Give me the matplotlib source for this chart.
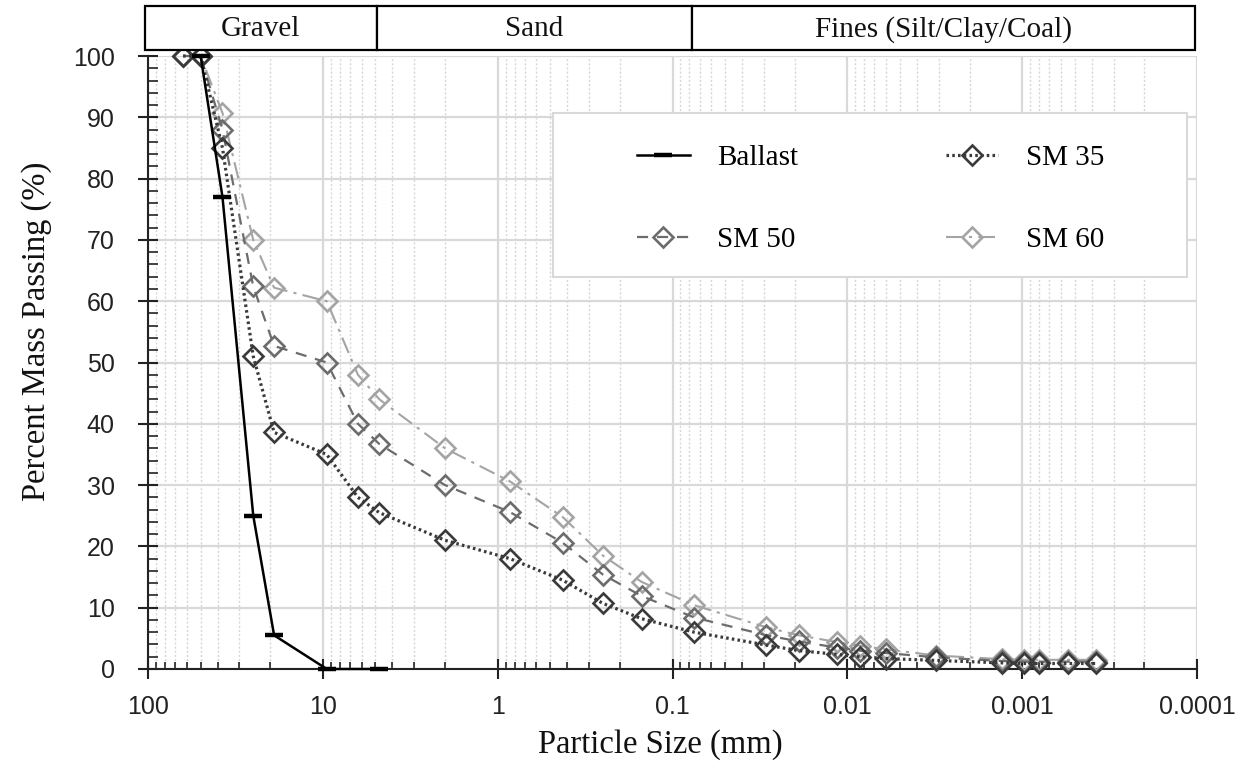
import matplotlib
matplotlib.use("Agg")
import numpy as np
import matplotlib.pyplot as plt
from matplotlib.patches import Rectangle
from matplotlib.ticker import FixedLocator, FixedFormatter, LogLocator, NullFormatter, MultipleLocator

# ---- data -------------------------------------------------------------
ballast_size = [50, 37.5, 25, 19, 9.5, 4.75]
ballast_pass = [100, 77, 25, 5.5, 0, 0]

soil_size = [63, 50, 37.5, 25, 19, 9.5, 6.3, 4.75, 2.0, 0.85, 0.425, 0.25, 0.15, 0.075,
             0.029, 0.019, 0.0115, 0.0085, 0.006, 0.0031, 0.0013, 0.00097, 0.0008, 0.00055, 0.00038]
sm35_pass = [100, 100, 85, 51, 38.6, 35, 28, 25.5, 21, 18, 14.5, 10.7, 8.2, 6.0,
             3.9, 3.0, 2.4, 2.0, 1.7, 1.4, 1.0, 0.9, 0.9, 0.9, 0.9]
sm50_pass = [100, 100, 88, 62.4, 52.7, 50, 40, 36.7, 30, 25.6, 20.6, 15.4, 11.9, 8.4,
             5.5, 4.5, 3.5, 3.0, 2.6, 1.9, 1.3, 1.2, 1.2, 1.2, 1.2]
sm60_pass = [100, 100, 90.7, 70, 62.2, 60, 48, 44, 36, 30.6, 24.8, 18.5, 14.2, 10.4,
             6.8, 5.5, 4.4, 3.8, 3.2, 2.2, 1.6, 1.5, 1.5, 1.5, 1.5]

zone_edges = [100, 4.75, 0.075, 0.0001]
zone_names = ["Gravel", "Sand", "Fines (Silt/Clay/Coal)"]

x_ticks = [100, 10, 1, 0.1, 0.01, 0.001, 0.0001]
x_tick_labels = ["100", "10", "1", "0.1", "0.01", "0.001", "0.0001"]

# ---- styling ----------------------------------------------------------
SERIF = ["Liberation Serif", "DejaVu Serif"]
SANS = ["Liberation Sans", "DejaVu Sans"]
plt.rcParams["font.family"] = SANS

W, H = 1250, 765
fig = plt.figure(figsize=(W / 100, H / 100), dpi=100)
fig.patch.set_facecolor("white")

ax_l, ax_r, ax_t, ax_b = 148, 1197, 56, 669
ax = fig.add_axes([ax_l / W, (H - ax_b) / H, (ax_r - ax_l) / W, (ax_b - ax_t) / H])

ax.set_xscale("log")
ax.set_xlim(100, 0.0001)
ax.set_ylim(0, 100)
ax.set_axisbelow(True)

# ticks and grid
ax.xaxis.set_major_locator(FixedLocator(x_ticks))
ax.xaxis.set_major_formatter(FixedFormatter(x_tick_labels))
ax.xaxis.set_minor_locator(LogLocator(base=10, subs=np.arange(2, 10), numticks=20))
ax.xaxis.set_minor_formatter(NullFormatter())
ax.yaxis.set_major_locator(MultipleLocator(10))
ax.yaxis.set_minor_locator(MultipleLocator(2))

ax.grid(which="major", color="#d9d9d9", lw=1.6, ls="-")
ax.xaxis.grid(which="minor", color="#d6d6d6", lw=1.0, ls=(0, (1.5, 1.5)))
ax.yaxis.grid(False, which="minor")

for s in ["top", "right"]:
    ax.spines[s].set_visible(False)
for s in ["left", "bottom"]:
    ax.spines[s].set_color("#222222")
    ax.spines[s].set_linewidth(1.5)

ax.tick_params(axis="x", which="major", direction="inout", length=15, width=1.5,
               pad=11, labelsize=18, colors="#222222")
ax.tick_params(axis="x", which="minor", direction="in", length=5, width=1.2, colors="#222222")
ax.tick_params(axis="y", which="major", direction="inout", length=14, width=1.5,
               pad=17, labelsize=18, colors="#222222")
ax.tick_params(axis="y", which="minor", direction="in", length=7, width=1.2, colors="#222222")

# ---- series -----------------------------------------------------------
ax.plot(ballast_size, ballast_pass, color="black", lw=1.8, marker="_", ms=13,
        mew=3.2, clip_on=False, zorder=6, label="Ballast")
mk = dict(marker="D", ms=10.3, mew=1.9, mfc="none", clip_on=False)
ax.plot(soil_size, sm35_pass, color="#3a3a3a", lw=2.3, ls=(0, (0.8, 1.0)),
        mec="#3a3a3a", zorder=5, label="SM 35", **mk)
ax.plot(soil_size, sm50_pass, color="#6c6c6c", lw=1.6, ls=(0, (5, 4)),
        mec="#6c6c6c", zorder=4, label="SM 50", **mk)
ax.plot(soil_size, sm60_pass, color="#a4a4a4", lw=1.5, ls=(0, (8, 3, 1.5, 3)),
        mec="#a4a4a4", zorder=3, label="SM 60", **mk)

# ---- legend -----------------------------------------------------------
def px_to_ax(px, py):
    return (px - ax_l) / (ax_r - ax_l), (ax_b - py) / (ax_b - ax_t)

lx0, ly0 = px_to_ax(553, 277)
lx1, ly1 = px_to_ax(1187, 113)
ax.add_patch(Rectangle((lx0, ly0), lx1 - lx0, ly1 - ly0, transform=ax.transAxes,
                       facecolor="white", edgecolor="#d9d9d9", lw=1.5, zorder=7,
                       clip_on=False))

handles, labels = ax.get_legend_handles_labels()
order = [0, 2, 1, 3]  # column-wise fill -> Ballast/SM 35 on top row
anchor = px_to_ax(637, 199)
leg = ax.legend([handles[i] for i in order], [labels[i] for i in order],
                ncol=2, loc="center left", bbox_to_anchor=anchor,
                frameon=False, borderpad=0, borderaxespad=0,
                handlelength=1.8, handletextpad=0.95, columnspacing=5.05,
                labelspacing=1.92, prop={"family": SERIF, "size": 21})
leg.set_zorder(8)

# ---- axis labels ------------------------------------------------------
fig.text(660 / W, 1 - 745 / H, "Particle Size (mm)", ha="center", va="center",
         family=SERIF, size=23.5, color="#111111")
fig.text(37 / W, 1 - 331 / H, "Percent Mass Passing (%)", ha="center", va="center",
         rotation=90, family=SERIF, size=23.5, color="#111111")

# ---- soil classification band ----------------------------------------
band = fig.add_axes([145 / W, (H - 50) / H, 1050 / W, 44 / H])
band.set_xscale("log")
band.set_xlim(100, 0.0001)
band.set_ylim(0, 1)
band.axis("off")
for x0, x1, name in zip(zone_edges[:-1], zone_edges[1:], zone_names):
    band.add_patch(Rectangle((x0, 0), x1 - x0, 1, facecolor="white",
                             edgecolor="black", lw=1.6, clip_on=False))
    band.text(np.sqrt(x0 * x1), 0.47, name, ha="center", va="center",
              family=SERIF, size=21, color="#111111")

fig.savefig("out.png", dpi=100, facecolor="white")
